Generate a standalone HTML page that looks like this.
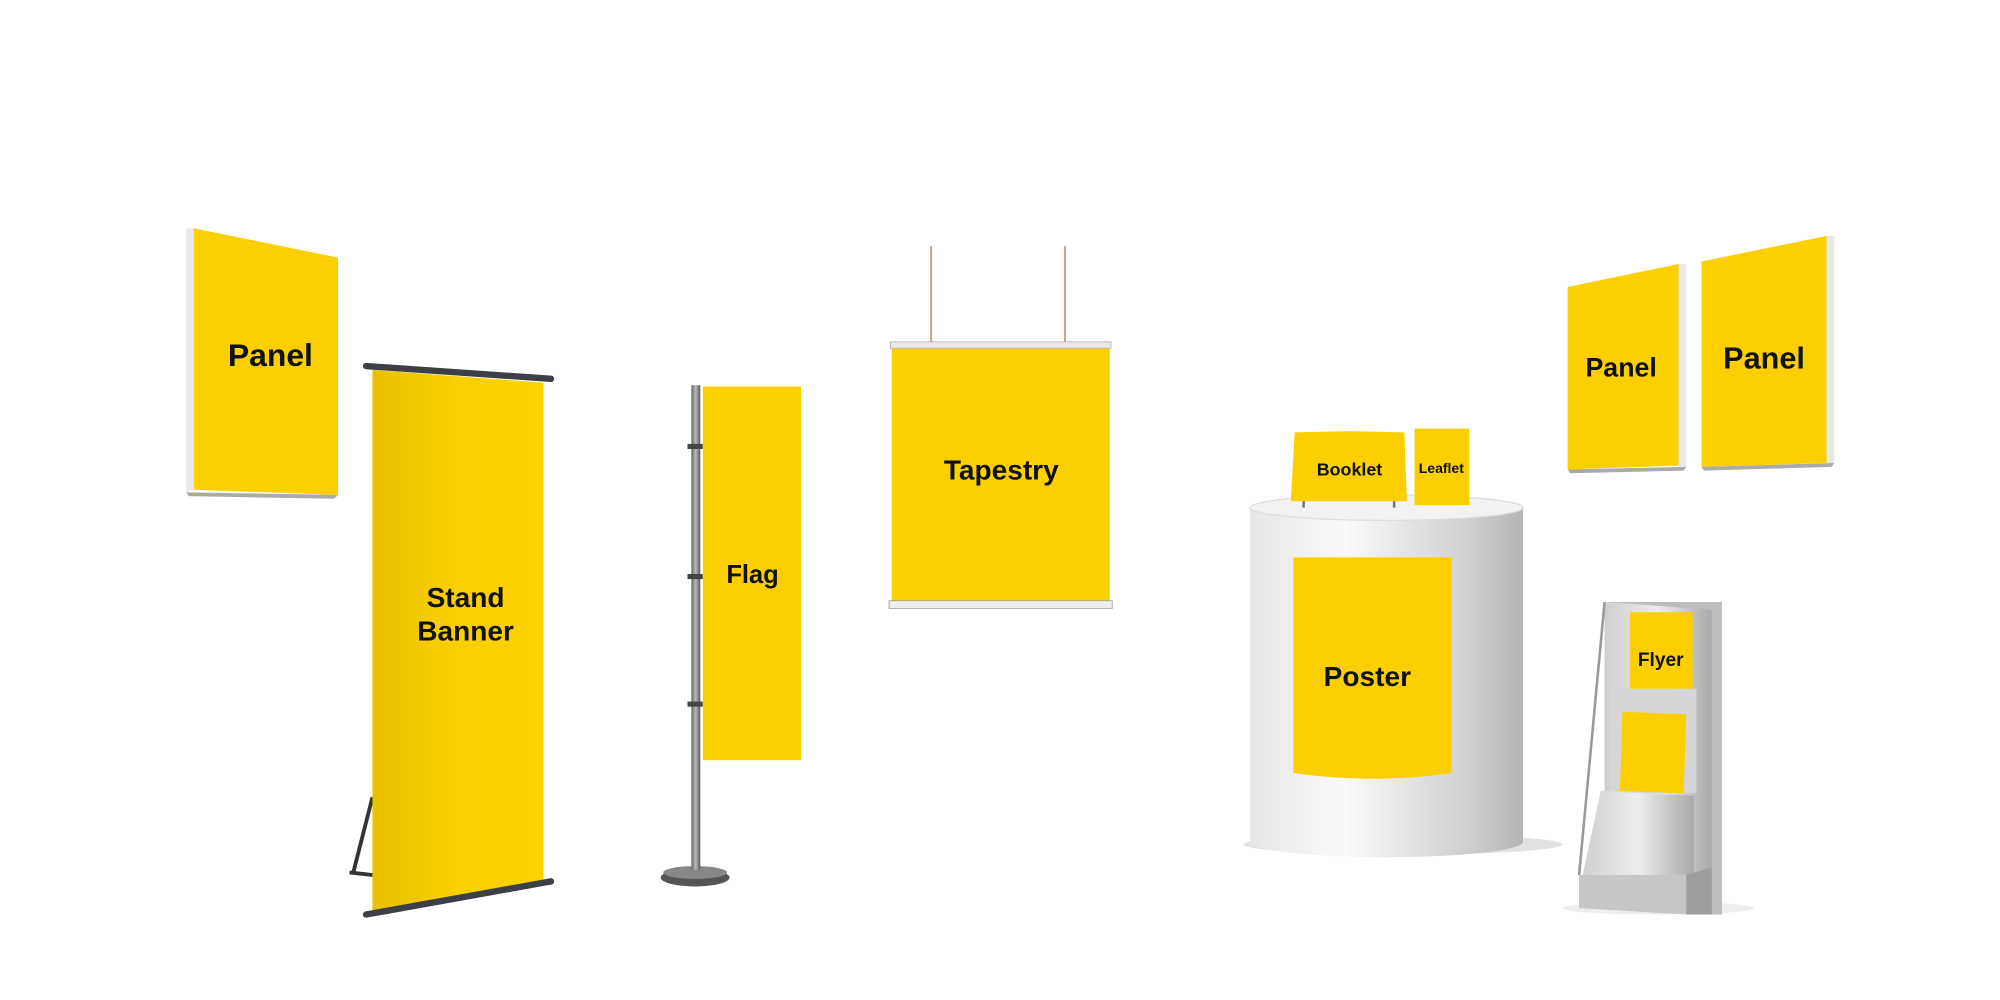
<!DOCTYPE html>
<html><head><meta charset="utf-8"><style>html,body{margin:0;padding:0;background:#fff;}svg{display:block}text{font-family:"Liberation Sans",sans-serif;font-weight:bold;fill:#111;text-anchor:middle}</style></head><body>
<svg width="2000" height="1000" viewBox="0 0 1568 784" xmlns="http://www.w3.org/2000/svg">
<defs>
<linearGradient id="cyl" x1="0" x2="1"><stop offset="0" stop-color="#e6e6e6"/><stop offset="0.35" stop-color="#fafafa"/><stop offset="0.8" stop-color="#cfcfcf"/><stop offset="1" stop-color="#b5b5b5"/></linearGradient>
<linearGradient id="ban" x1="0" x2="1"><stop offset="0" stop-color="#e8c100"/><stop offset="0.5" stop-color="#fbd000"/><stop offset="1" stop-color="#fcd200"/></linearGradient>
<linearGradient id="met" x1="0" x2="1"><stop offset="0" stop-color="#cfcfcf"/><stop offset="0.5" stop-color="#ededed"/><stop offset="1" stop-color="#a9a9a9"/></linearGradient>
<linearGradient id="pole" x1="0" x2="1"><stop offset="0" stop-color="#666"/><stop offset="0.5" stop-color="#bbb"/><stop offset="1" stop-color="#555"/></linearGradient>
</defs>
<!-- left panel -->
<polygon points="146,179 152,179 152,384 146,386" fill="#e8e8e8"/>
<polygon points="146,386 265,388 262,391 148,389" fill="#aaa"/>
<polygon points="152,179 265,202 265,388 152,384" fill="#fcd000"/>
<text x="212" y="287" font-size="25">Panel</text>
<!-- stand banner -->
<line x1="292" y1="625" x2="277" y2="684" stroke="#333" stroke-width="3"/>
<line x1="274" y1="684" x2="292" y2="686" stroke="#333" stroke-width="3"/>
<polygon points="292,290 426,300 426,692 292,716" fill="url(#ban)"/>
<line x1="287" y1="287" x2="432" y2="297" stroke="#3c3f46" stroke-width="5" stroke-linecap="round"/>
<line x1="287" y1="717" x2="432" y2="691" stroke="#3c3f46" stroke-width="5" stroke-linecap="round"/>
<text x="365" y="476" font-size="22">Stand</text>
<text x="365" y="502" font-size="22">Banner</text>
<!-- flag -->
<ellipse cx="545" cy="688" rx="27" ry="7" fill="#555"/>
<ellipse cx="545" cy="684" rx="25" ry="5" fill="#888"/>
<rect x="542" y="302" width="7" height="380" fill="url(#pole)"/>
<rect x="539" y="348" width="12" height="4" fill="#444"/>
<rect x="539" y="450" width="12" height="4" fill="#444"/>
<rect x="539" y="550" width="12" height="4" fill="#444"/>
<rect x="551" y="303" width="77" height="293" fill="#fcd000"/>
<text x="590" y="457" font-size="20">Flag</text>
<!-- tapestry -->
<line x1="730" y1="193" x2="730" y2="270" stroke="#c9a27a" stroke-width="1.5"/>
<line x1="835" y1="193" x2="835" y2="270" stroke="#c9a27a" stroke-width="1.5"/>
<rect x="699" y="273" width="171" height="198" fill="#fcd000"/>
<rect x="698" y="268" width="173" height="5" fill="#e8e8e8" stroke="#aaa" stroke-width="0.6"/>
<rect x="697" y="471" width="175" height="6" fill="#eee" stroke="#999" stroke-width="0.6"/>
<text x="785" y="376" font-size="22">Tapestry</text>
<!-- cylinder -->
<ellipse cx="1100" cy="662" rx="125" ry="8" fill="#e2e2e2"/>
<rect x="980" y="398" width="214" height="262" fill="url(#cyl)"/>
<ellipse cx="1087" cy="660" rx="107" ry="12" fill="url(#cyl)"/>
<ellipse cx="1087" cy="398" rx="107" ry="10" fill="#f2f2f2" stroke="#ddd"/>
<path d="M1014,437 H1138 V606 Q1076,615 1014,606 Z" fill="#fcd000"/>
<text x="1072" y="538" font-size="22">Poster</text>
<line x1="1022" y1="392" x2="1022" y2="398" stroke="#777" stroke-width="2"/>
<line x1="1093" y1="392" x2="1093" y2="398" stroke="#777" stroke-width="2"/>
<polygon points="1015,339 1058,338 1101,339 1103,393 1012,393" fill="#fcd000"/>
<text x="1058" y="373" font-size="14">Booklet</text>
<rect x="1109" y="336" width="43" height="60" fill="#fcd000"/>
<text x="1130" y="371" font-size="11">Leaflet</text>
<!-- right panels -->
<polygon points="1316,207 1322,207 1322,366 1316,366" fill="#e8e8e8"/>
<polygon points="1229,368 1322,366 1320,369 1231,371" fill="#aaa"/>
<polygon points="1229,225 1316,207 1316,365 1229,368" fill="#fcd000"/>
<text x="1271" y="295" font-size="21">Panel</text>
<polygon points="1432,185 1438,185 1438,363 1432,363" fill="#e8e8e8"/>
<polygon points="1334,366 1438,363 1436,366 1336,369" fill="#aaa"/>
<polygon points="1334,205 1432,185 1432,363 1334,366" fill="#fcd000"/>
<text x="1383" y="289" font-size="24">Panel</text>
<!-- flyer stand -->
<ellipse cx="1300" cy="712" rx="75" ry="5" fill="#eee"/>
<polygon points="1258,472 1350,472 1350,717 1322,717 1258,700" fill="#bdbdbd"/>
<polygon points="1258,472 1342,478 1342,717 1258,700" fill="url(#met)"/>
<rect x="1278" y="480" width="49" height="60" fill="#fcd000"/>
<text x="1302" y="522" font-size="15">Flyer</text>
<polygon points="1262,540 1330,540 1330,622 1262,622" fill="#d5d5d5"/>
<polygon points="1272,558 1322,560 1320,622 1270,620" fill="#fcd000"/>
<polygon points="1255,620 1328,624 1328,690 1240,690 1255,620" fill="url(#met)"/>
<polygon points="1238,686 1322,686 1322,717 1238,712" fill="#c6c6c6"/>
<polygon points="1322,686 1342,680 1342,717 1322,717" fill="#9e9e9e"/>
<line x1="1258" y1="472" x2="1238" y2="686" stroke="#999" stroke-width="2"/>
</svg>
</body></html>
